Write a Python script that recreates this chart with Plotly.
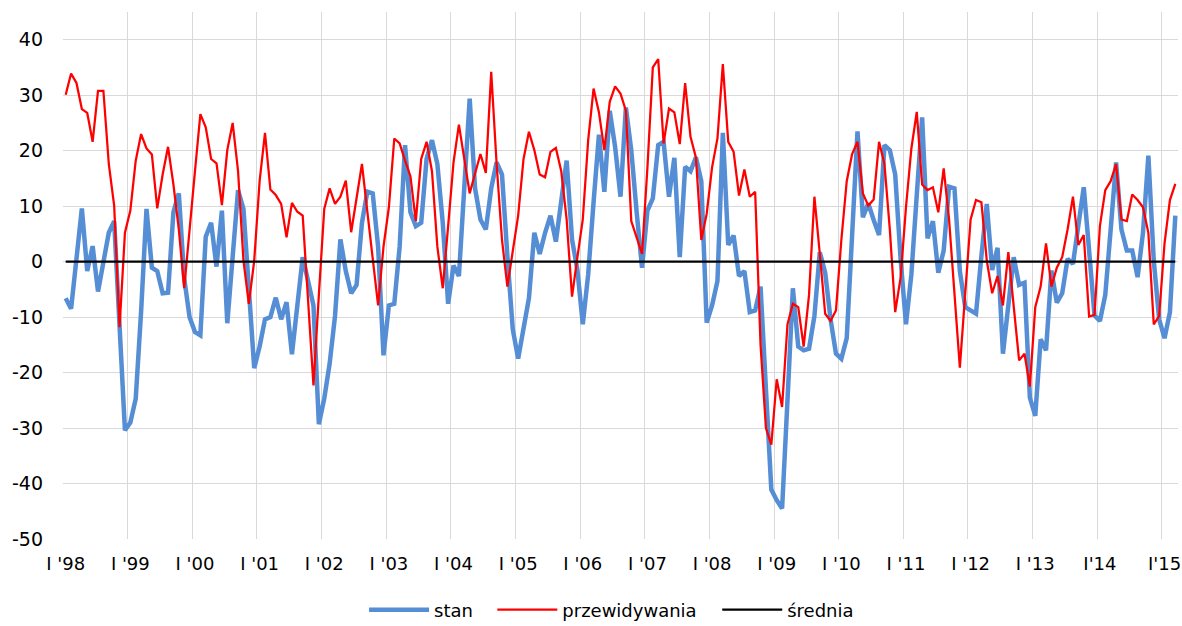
import plotly.graph_objects as go

# Monthly data, Jan 1998 .. Mar 2015
start_year = 1998
stan = [
    -6.6, -8.5, 0.5, 9.6, -1.7, 2.8, -5.4, 0, 5.2, 7.3, -11, -30.4,
    -29, -24.7, -9, 9.5, -1.1, -1.7, -5.7, -5.6, 8.9, 12.3, -3, -10,
    -12.7, -13.3, 4.5, 7, -0.9, 9.2, -11.1, 0.5, 12.9, 9.5, -4.5, -19.2,
    -15.3, -10.4, -10, -6.5, -10.4, -7.3, -16.7, -7, 0.8, -3.5, -7.9, -29.3,
    -24.7, -18.4, -9.8, 4, -1.7, -5.7, -4.2, 7, 12.6, 12.3, 2.7, -16.9,
    -7.9, -7.6, 2.7, 21, 8.9, 6.4, 7, 18.5, 21.9, 17.6, 7, -7.6,
    -0.7, -2.6, 13, 29.4, 13.2, 7.6, 5.8, 13.2, 17.9, 15.7, 1, -12.2,
    -17.5, -12.2, -6.6, 5.2, 1.4, 5.2, 8.3, 3.6, 10.7, 18.2, 4, -1.5,
    -11.3, -2.3, 10.7, 22.9, 12.6, 27.2, 20.7, 11.7, 27.8, 20.1, 8.9, -1.1,
    9.2, 11.4, 21, 21.6, 11.7, 18.7, 0.8, 17.1, 16.3, 18.8, 14.5, -11,
    -7.9, -3.5, 23.2, 3, 4.7, -2.6, -1.7, -9.1, -8.8, -4.5, -23, -41.1,
    -43, -44.5, -25, -4.8, -15.3, -16, -15.7, -9.8, 1.7, -2, -10.4, -16.6,
    -17.5, -13.8, 4.8, 23.5, 8, 10.5, 7.5, 4.8, 21, 20.1, 15.7, 0.5,
    -11.3, -2.3, 12, 26, 4.2, 7.3, -2, 2, 13.5, 13.2, -1.7, -8.2,
    -8.8, -9.4, 1, 10.4, -1.5, 2.5, -16.6, -7.9, 0.8, -4.2, -3.8, -24.5,
    -27.8, -14, -16, -1.6, -7.4, -5.7, 0.5, -0.4, 6.4, 13.4, 2, -9.7,
    -10.7, -6, 5.8, 17.9, 5.8, 2, 2, -2.8, 5.2, 19.1, 0.2, -10.4,
    -13.8, -9.1, 8.3,
]
przewidywania = [
    30.1, 33.9, 32.2, 27.5, 26.8, 21.6, 30.8, 30.8, 17.6, 10.1, -11.8, 5.2,
    9.2, 18.2, 23, 20.4, 19.3, 9.6, 15.7, 20.7, 13.9, 5.8, -4.8, 6.4,
    16.3, 26.6, 24.2, 18.5, 17.7, 10.2, 20.1, 25, 16.3, 0.2, -7.6, 0.2,
    14.5, 23.2, 13, 12, 10.4, 4.4, 10.6, 9, 8.3, -7, -22.3, -6,
    9.5, 13.2, 10.4, 11.7, 14.6, 5.3, 11.4, 17.6, 9, 0, -7.9, 2.7,
    9.8, 22.2, 21.3, 18.2, 15.4, 7.3, 18.5, 21.6, 16.3, 2.7, -4.8, 6.4,
    17.9, 24.7, 18.5, 12.3, 15.9, 19.4, 16, 34.2, 17.6, 3.9, -4.5, 2,
    8.3, 18.5, 23.4, 20.1, 15.7, 15.2, 19.8, 20.5, 16.3, 7.6, -6.3, 0.8,
    7.6, 21.9, 31.2, 26.9, 20.1, 28.8, 31.6, 30.3, 27.2, 7.3, 4.5, 1.4,
    17, 35, 36.5, 21.3, 27.6, 26.9, 21.2, 32.2, 22.5, 18.8, 3.9, 8.6,
    17, 22.2, 35.6, 21.6, 19.8, 11.9, 16.6, 11.7, 12.6, -15, -30, -33,
    -21.2, -26.2, -11.3, -7.6, -8.2, -15.3, -6, 11.7, 1.4, -9.4, -10.7, -8.8,
    3.9, 14.5, 19.4, 21.6, 12.3, 10.1, 11.2, 21.6, 17.6, 5.8, -9.1, -2.9,
    9.8, 20.4, 27, 13.9, 12.9, 13.4, 8.9, 16.8, 7.6, -6, -19.1, -5.7,
    7.6, 11.1, 10.7, 0.2, -5.7, -2.6, -7.9, 1.7, -7.9, -17.8, -16.6, -22.5,
    -8.2, -4.5, 3.3, -4.5, -1.1, 0.8, 5.8, 11.7, 3, 4.8, -9.9, -9.6,
    6.4, 12.9, 14.5, 17.6, 7.6, 7.3, 12.1, 11.1, 9.8, 5.2, -11.3, -9.8,
    3.3, 11.1, 14,
]
srednia_value = 0.0
srednia = [srednia_value] * len(stan)

tick_labels = ["I '98", "I '99", "I '00", "I '01", "I '02", "I '03", "I '04",
               "I '05", "I '06", "I '07", "I '08", "I '09", "I '10", "I '11",
               "I '12", "I '13", "I'14", "I'15"]
y_ticks = [-50, -40, -30, -20, -10, 0, 10, 20, 30, 40]
y_tick_labels = ["-50", "-40", "-30", "-20", "-10", "0", "10", "20", "30", "40"]

months = [f"{start_year + i // 12}-{i % 12 + 1:02d}" for i in range(len(stan))]
x = list(range(len(months)))
jan_idx = [i for i, m in enumerate(months) if m.endswith("-01")]

FONT = "Verdana, 'DejaVu Sans', sans-serif"
GRID = "#d9d9d9"

fig = go.Figure()
fig.add_trace(go.Scatter(x=x, y=stan, name="stan", mode="lines",
                         customdata=months, legend="legend",
                         line=dict(color="#558ed5", width=4.5)))
fig.add_trace(go.Scatter(x=x, y=przewidywania, name="przewidywania", mode="lines",
                         customdata=months, legend="legend2",
                         line=dict(color="#ff0000", width=2.25)))
fig.add_trace(go.Scatter(x=x, y=srednia, name="średnia", mode="lines",
                         customdata=months, legend="legend3",
                         line=dict(color="#000000", width=2.25)))

leg_common = dict(orientation="h", xref="container", yref="container",
                  y=0.0256, yanchor="middle", xanchor="left",
                  font=dict(family=FONT, size=18, color="#000000"), itemwidth=60,
                  bgcolor="rgba(0,0,0,0)", borderwidth=0)

fig.update_layout(
    width=1182, height=626,
    margin=dict(l=63, r=4, t=12, b=87, autoexpand=False),
    paper_bgcolor="white", plot_bgcolor="white",
    font=dict(family=FONT, size=18, color="#000000"),
    showlegend=True,
    legend=dict(x=0.3080, **leg_common),
    legend2=dict(x=0.4165, **leg_common),
    legend3=dict(x=0.6068, **leg_common),
    xaxis=dict(
        range=[-0.5, len(months) - 0.5],
        tickmode="array", tickvals=jan_idx, ticktext=tick_labels,
        showgrid=False, zeroline=False, ticks="",
        ticklabelstandoff=12,
        showline=False, automargin=False,
        minor=dict(tickmode="linear", tick0=-0.5, dtick=12, showgrid=True,
                   gridcolor=GRID, gridwidth=1.3),
        tickfont=dict(family=FONT, size=18),
    ),
    yaxis=dict(
        range=[-50, 45],
        tickmode="array", tickvals=y_ticks, ticktext=y_tick_labels,
        showgrid=True, gridcolor=GRID, gridwidth=1.3,
        zeroline=False, ticks="", showline=False, automargin=False,
        ticklabelstandoff=19,
        tickfont=dict(family=FONT, size=19),
    ),
)

fig.write_html("out.html",
               config={"displayModeBar": False},
               post_script="document.body.style.margin='0';document.body.style.padding='0';")
